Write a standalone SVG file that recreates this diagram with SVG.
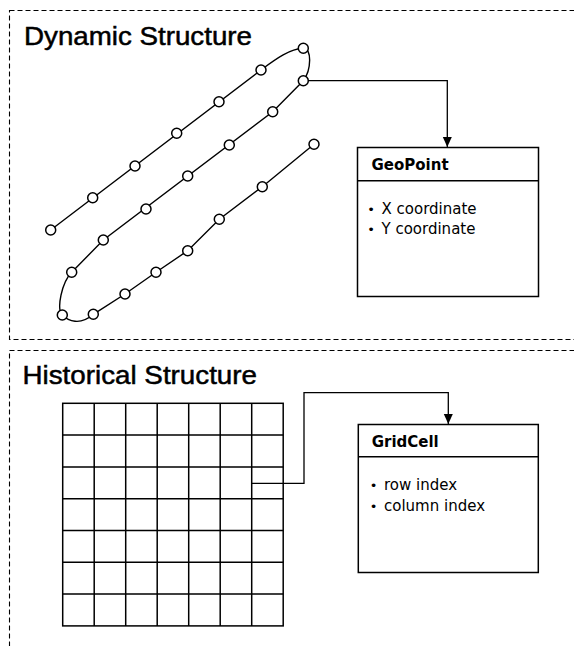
<svg xmlns="http://www.w3.org/2000/svg" width="574" height="646" viewBox="0 0 574 646">
  <style>
    .frame { fill: none; stroke: #000; stroke-width: 1.1; stroke-dasharray: 5 3; }
    .title { font-family: "Liberation Sans", Arial, sans-serif; font-size: 26px; fill: #000; stroke: #000; stroke-width: 0.5; }
    .line { fill: none; stroke: #000; stroke-width: 1.4; }
    .pt { fill: #fff; stroke: #000; stroke-width: 1.5; }
    .box { fill: #fff; stroke: #000; stroke-width: 1.5; }
    .head { font-family: "DejaVu Sans", Verdana, sans-serif; font-size: 15px; font-weight: bold; fill: #000; }
    .item { font-family: "DejaVu Sans", Verdana, sans-serif; font-size: 15px; fill: #000; }
    .bul { font-size: 13px; }
    .grid { fill: none; stroke: #000; stroke-width: 1.5; }
    .conn { fill: none; stroke: #000; stroke-width: 1.3; }
  </style>
  <defs>
    <marker id="arrow" viewBox="0 0 10 10" refX="10" refY="5" markerWidth="10" markerHeight="10" markerUnits="userSpaceOnUse" orient="auto">
      <path d="M0,0.5 L10,5 L0,9.5 Z" fill="#000"/>
    </marker>
  </defs>
  <rect width="574" height="646" fill="#fff"/>

  <g id="frame-dynamic">
    <rect class="frame" x="9.5" y="10.5" width="600" height="329"/>
    <text class="title" x="24" y="45" textLength="228" lengthAdjust="spacingAndGlyphs">Dynamic Structure</text>
  </g>

  <g id="frame-historical">
    <rect class="frame" x="9.5" y="350.5" width="600" height="320"/>
    <text class="title" x="22.5" y="384" textLength="234.5" lengthAdjust="spacingAndGlyphs">Historical Structure</text>
  </g>

  <g id="trajectory">
    <path class="line" d="M50.7,230 L261,70 C277,58 290,49 303.3,48.3 C312,47.8 311.5,70 303.3,80.7 L272.7,111.7 L103.3,240 L71.7,272.3 C61.7,282.5 56.3,309 62.3,315 C68.3,321 80,326 93.3,314.3 L125,294 L156,272.3 L187.7,250.7 L219.3,219.3 L262.3,186.7 L314,144.3"/>
    <circle class="pt" cx="50.7" cy="230" r="5"/>
    <circle class="pt" cx="92.7" cy="197.7" r="5"/>
    <circle class="pt" cx="135" cy="166" r="5"/>
    <circle class="pt" cx="176.7" cy="133.3" r="5"/>
    <circle class="pt" cx="219" cy="101.7" r="5"/>
    <circle class="pt" cx="261" cy="70" r="5"/>
    <circle class="pt" cx="303.3" cy="48.3" r="5"/>
    <circle class="pt" cx="303.3" cy="80.7" r="5"/>
    <circle class="pt" cx="272.7" cy="111.7" r="5"/>
    <circle class="pt" cx="229.3" cy="145" r="5"/>
    <circle class="pt" cx="187.7" cy="176" r="5"/>
    <circle class="pt" cx="146" cy="209" r="5"/>
    <circle class="pt" cx="103.3" cy="240" r="5"/>
    <circle class="pt" cx="71.7" cy="272.3" r="5"/>
    <circle class="pt" cx="62.3" cy="315" r="5"/>
    <circle class="pt" cx="93.3" cy="314.3" r="5"/>
    <circle class="pt" cx="125" cy="294" r="5"/>
    <circle class="pt" cx="156" cy="272.3" r="5"/>
    <circle class="pt" cx="187.7" cy="250.7" r="5"/>
    <circle class="pt" cx="219.3" cy="219.3" r="5"/>
    <circle class="pt" cx="262.3" cy="186.7" r="5"/>
    <circle class="pt" cx="314" cy="144.3" r="5"/>
  </g>

  <g id="grid">
    <rect class="grid" x="62.7" y="403.3" width="220.5" height="222.6"/>
    <path class="grid" d="M94.2,403.3 V625.9 M125.7,403.3 V625.9 M157.2,403.3 V625.9 M188.7,403.3 V625.9 M220.2,403.3 V625.9 M251.7,403.3 V625.9 M62.7,435.1 H283.2 M62.7,466.9 H283.2 M62.7,498.7 H283.2 M62.7,530.5 H283.2 M62.7,562.3 H283.2 M62.7,594.1 H283.2"/>
  </g>

  <g id="geopoint">
    <rect class="box" x="357.5" y="147.5" width="181" height="149"/>
    <line class="box" x1="357.5" y1="180.7" x2="538.5" y2="180.7"/>
    <text class="head" x="371.5" y="170">GeoPoint</text>
    <text class="item" y="214"><tspan class="bul" x="367.2">•</tspan><tspan x="381.5">X coordinate</tspan></text>
    <text class="item" y="234"><tspan class="bul" x="367.2">•</tspan><tspan x="381.5">Y coordinate</tspan></text>
  </g>

  <g id="gridcell">
    <rect class="box" x="358.3" y="424.5" width="180" height="148"/>
    <line class="box" x1="358.3" y1="456.7" x2="538.3" y2="456.7"/>
    <text class="head" x="371.7" y="447.3">GridCell</text>
    <text class="item" y="490"><tspan class="bul" x="369.8">•</tspan><tspan x="384">row index</tspan></text>
    <text class="item" y="510.7"><tspan class="bul" x="369.8">•</tspan><tspan x="384">column index</tspan></text>
  </g>

  <g id="connectors">
    <path class="conn" d="M308.3,80.7 H447.3 V147" marker-end="url(#arrow)"/>
    <path class="conn" d="M252,483.3 H304 V392.7 H448.3 V424" marker-end="url(#arrow)"/>
  </g>
</svg>
